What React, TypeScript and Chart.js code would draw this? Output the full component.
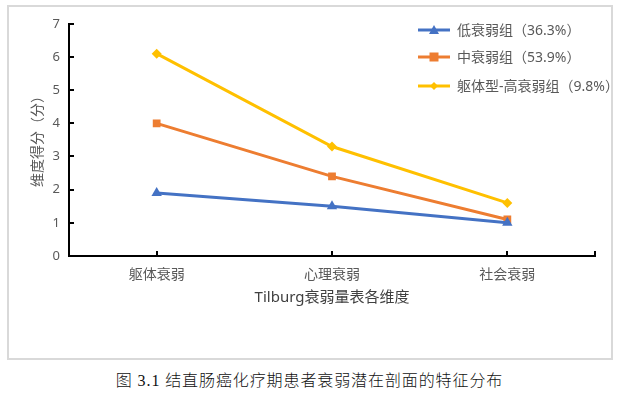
import React, { useEffect, useRef } from 'react';
import { Chart, registerables } from 'chart.js';
Chart.register(...registerables);

const categories = ['躯体衰弱', '心理衰弱', '社会衰弱'];
const lowValues = [1.9, 1.5, 1.0];
const midValues = [4.0, 2.4, 1.1];
const highValues = [6.1, 3.3, 1.6];
const seriesLabels = ['低衰弱组（36.3%）', '中衰弱组（53.9%）', '躯体型-高衰弱组（9.8%）'];
const seriesColors = ['#4472C4', '#ED7D31', '#FFC000'];
const seriesMarkers = ['triangle', 'rect', 'rectRot'];
const yMin = 0;
const yMax = 7;
const yTitle = '维度得分（分）';
const xTitle = 'Tilburg衰弱量表各维度';
const caption = '图 3.1 结直肠癌化疗期患者衰弱潜在剖面的特征分布';

const FONT = '"Noto Sans", "Noto Sans CJK SC", sans-serif';

function drawMarker(ctx: CanvasRenderingContext2D, style: string, x: number, y: number, r: number, color: string) {
  ctx.save();
  ctx.fillStyle = color;
  ctx.beginPath();
  if (style === 'triangle') {
    ctx.moveTo(x, y - r);
    ctx.lineTo(x + r, y + r * 0.8);
    ctx.lineTo(x - r, y + r * 0.8);
    ctx.closePath();
  } else if (style === 'rect') {
    ctx.rect(x - r, y - r, 2 * r, 2 * r);
  } else {
    ctx.moveTo(x, y - r);
    ctx.lineTo(x + r, y);
    ctx.lineTo(x, y + r);
    ctx.lineTo(x - r, y);
    ctx.closePath();
  }
  ctx.fill();
  ctx.restore();
}

const decorPlugin = {
  id: 'decor',
  afterDraw(chart: any) {
    const ctx: CanvasRenderingContext2D = chart.ctx;
    const area = chart.chartArea;
    const xs = chart.scales.x;
    const ys = chart.scales.y;
    ctx.save();
    // inner tick marks
    ctx.strokeStyle = '#000';
    ctx.lineWidth = 2;
    for (let v = yMin; v <= yMax; v++) {
      const py = Math.round(ys.getPixelForValue(v));
      ctx.beginPath();
      ctx.moveTo(area.left, py);
      ctx.lineTo(area.left + 5, py);
      ctx.stroke();
    }
    const xTickPos = categories.map((_, i) => xs.getPixelForValue(i)).concat([area.right]);
    xTickPos.forEach((px) => {
      ctx.beginPath();
      ctx.moveTo(Math.round(px), area.bottom);
      ctx.lineTo(Math.round(px), area.bottom - 5);
      ctx.stroke();
    });
    // y title
    ctx.fillStyle = '#595959';
    ctx.font = '14px ' + FONT;
    ctx.textAlign = 'center';
    ctx.textBaseline = 'middle';
    ctx.save();
    ctx.translate(29, (area.top + area.bottom) / 2 - 2);
    ctx.rotate(-Math.PI / 2);
    ctx.fillText(yTitle, 0, 0);
    ctx.restore();
    // x title
    ctx.fillStyle = '#404040';
    ctx.font = '15px ' + FONT;
    ctx.fillText(xTitle, (area.left + area.right) / 2, 291);
    // legend
    ctx.font = '14px ' + FONT;
    ctx.textAlign = 'left';
    ctx.fillStyle = '#595959';
    const rows = [23, 50, 79];
    seriesLabels.forEach((lab, i) => {
      const y = rows[i];
      ctx.strokeStyle = seriesColors[i];
      ctx.lineWidth = 3;
      ctx.beginPath();
      ctx.moveTo(409, y);
      ctx.lineTo(441, y);
      ctx.stroke();
      const r = seriesMarkers[i] === 'rect' ? 4.5 : seriesMarkers[i] === 'triangle' ? 5 : 4;
      drawMarker(ctx, seriesMarkers[i], 425, y, r, seriesColors[i]);
      ctx.fillStyle = '#595959';
      ctx.fillText(lab, 448, y + 1);
    });
    ctx.restore();
  },
};

export default function App() {
  const ref = useRef<HTMLCanvasElement>(null);
  useEffect(() => {
    const canvas = ref.current!;
    const seriesValues = [lowValues, midValues, highValues];
    const chart = new Chart(canvas, {
      type: 'line',
      data: {
        labels: categories,
        datasets: seriesLabels.map((label, i) => ({
          label,
          data: seriesValues[i],
          borderColor: seriesColors[i],
          backgroundColor: seriesColors[i],
          borderWidth: 3,
          pointStyle: seriesMarkers[i] as any,
          pointRadius: seriesMarkers[i] === 'rect' ? 5.5 : seriesMarkers[i] === 'triangle' ? 6 : 5,
          pointBorderWidth: 0,
          tension: 0,
          fill: false,
        })),
      },
      options: {
        responsive: false,
        animation: false,
        layout: { padding: { left: 0, top: 15, right: 16, bottom: 0 } },
        plugins: { legend: { display: false }, tooltip: { enabled: false } },
        scales: {
          x: {
            offset: true,
            grid: { display: false, drawTicks: false },
            border: { display: true, color: '#000', width: 2 },
            ticks: { color: '#595959', font: { size: 14, family: FONT }, padding: 11, maxRotation: 0 },
            afterFit: (s: any) => { s.height = 102; },
          },
          y: {
            min: yMin,
            max: yMax,
            grid: { display: false, drawTicks: false },
            border: { display: true, color: '#000', width: 2 },
            ticks: { stepSize: 1, color: '#595959', font: { size: 13, family: FONT }, padding: 9 },
            afterFit: (s: any) => { s.width = 60; },
          },
        },
      },
      plugins: [decorPlugin],
    });
    return () => chart.destroy();
  }, []);
  return (
    <div style={{ position: 'fixed', left: 0, top: 0, width: 619, height: 396, background: '#fff' }}>
      <div style={{ position: 'absolute', left: 7, top: 5, width: 602, height: 351, border: '2px solid #d9d9d9' }}>
        <canvas ref={ref} width={602} height={351} style={{ display: 'block', width: 602, height: 351 }} />
      </div>
      <div style={{ position: 'absolute', left: 0, top: 370, width: 619, textAlign: 'center', fontFamily: '"Liberation Serif", "Noto Sans CJK SC", serif', fontSize: 16, fontWeight: 300, color: '#111', lineHeight: '22px', letterSpacing: '0.9px' }}>
        {caption}
      </div>
    </div>
  );
}
